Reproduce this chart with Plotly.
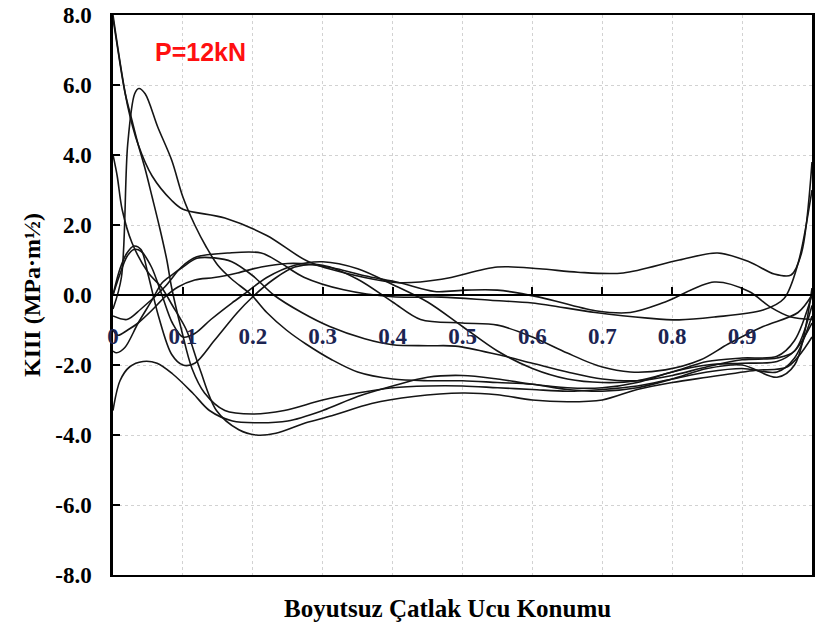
import plotly.graph_objects as go

# ---- data ----
c1_x = [0, 0.021, 0.036, 0.056, 0.084, 0.1, 0.16, 0.22, 0.28, 0.36, 0.41, 0.47, 0.55, 0.61, 0.665, 0.73, 0.81, 0.865, 0.91, 0.946, 0.97, 0.985, 1.0]
c1_y = [8.0, 5.4, 4.3, 3.4, 2.7, 2.45, 2.2, 1.7, 0.95, 0.5, 0.35, 0.45, 0.8, 0.75, 0.65, 0.63, 1.0, 1.2, 0.95, 0.6, 0.57, 1.2, 3.8]

c2_x = [0, 0.012, 0.021, 0.031, 0.037, 0.046, 0.064, 0.084, 0.1, 0.117, 0.134, 0.15, 0.17, 0.198, 0.22, 0.248, 0.276, 0.313, 0.35, 0.4, 0.45, 0.5, 0.55, 0.6, 0.65, 0.7, 0.75, 0.8, 0.85, 0.9, 0.95, 0.975, 1.0]
c2_y = [-0.4, 0.5, 4.3, 5.75, 5.9, 5.75, 4.8, 3.85, 2.8, 2.0, 1.35, 0.85, 0.45, 0.0, -0.5, -1.0, -1.4, -1.85, -2.2, -2.4, -2.45, -2.45, -2.5, -2.55, -2.7, -2.75, -2.65, -2.4, -2.1, -2.0, -2.35, -2.0, 0.2]

c3_x = [0, 0.01, 0.02, 0.03, 0.04, 0.05, 0.065, 0.084, 0.1, 0.117, 0.145, 0.178, 0.2, 0.23, 0.26, 0.3, 0.35, 0.4, 0.44, 0.5, 0.55, 0.6, 0.65, 0.7, 0.74, 0.79, 0.84, 0.88, 0.93, 0.98, 1.0]
c3_y = [0.0, 0.75, 1.2, 1.4, 1.3, 0.6, -0.6, -1.7, -2.0, -1.95, -1.3, -0.5, -0.05, 0.45, 0.8, 0.85, 0.45, -0.2, -0.7, -0.8, -0.86, -1.2, -1.66, -2.06, -2.2, -2.14, -1.86, -1.4, -0.9, -0.5, 0.0]

c4_x = [0, 0.007, 0.017, 0.027, 0.036, 0.046, 0.056, 0.067, 0.077, 0.084, 0.098, 0.113, 0.131, 0.16, 0.2, 0.245, 0.3, 0.35, 0.4, 0.45, 0.5, 0.55, 0.6, 0.65, 0.7, 0.75, 0.8, 0.85, 0.9, 0.95, 0.975, 1.0]
c4_y = [7.9, 7.0, 5.8, 5.0, 4.3, 3.6, 2.8, 1.9, 1.0, 0.2, -1.0, -2.1, -2.8, -3.3, -3.4, -3.3, -3.0, -2.8, -2.65, -2.6, -2.6, -2.65, -2.7, -2.75, -2.7, -2.6, -2.4, -2.2, -2.1, -2.2, -1.8, -0.6]

c5_x = [0, 0.006, 0.013, 0.027, 0.05, 0.07, 0.085, 0.105, 0.124, 0.148, 0.18, 0.205, 0.233, 0.276, 0.313, 0.37, 0.43, 0.5, 0.55, 0.6, 0.65, 0.7, 0.75, 0.8, 0.85, 0.92, 0.965, 1.0]
c5_y = [4.0, 3.4, 2.45, 1.5, 0.65, 0.2, -0.3, -1.0, -2.1, -3.3, -3.85, -4.0, -3.95, -3.65, -3.45, -3.1, -2.9, -2.8, -2.85, -3.0, -3.05, -3.0, -2.7, -2.5, -2.35, -2.15, -2.05, -1.2]

c6_x = [0, 0.007, 0.021, 0.036, 0.056, 0.074, 0.093, 0.117, 0.145, 0.178, 0.212, 0.25, 0.28, 0.32, 0.36, 0.41, 0.46, 0.505, 0.55, 0.61, 0.69, 0.74, 0.79, 0.86, 0.91, 0.94, 0.97, 1.0]
c6_y = [-1.0, -1.15, -1.0, -0.8, -0.43, -0.06, 0.23, 0.43, 0.5, 0.63, 0.8, 0.9, 0.88, 0.75, 0.55, 0.35, 0.1, 0.14, 0.14, -0.06, -0.45, -0.5, -0.2, 0.37, 0.1, -0.34, -0.63, -0.7]

c7_x = [0, 0.005, 0.017, 0.036, 0.056, 0.07, 0.084, 0.1, 0.12, 0.145, 0.17, 0.2, 0.23, 0.27, 0.31, 0.36, 0.4, 0.45, 0.49, 0.55, 0.6, 0.65, 0.7, 0.75, 0.8, 0.85, 0.9, 0.95, 0.975, 1.0]
c7_y = [-1.6, -1.65, -1.5, -0.8, -0.14, 0.34, 0.57, 0.8, 1.05, 1.06, 0.95, 0.55, 0.0, -0.5, -0.9, -1.25, -1.42, -1.45, -1.46, -1.7, -1.95, -2.2, -2.4, -2.45, -2.3, -2.05, -1.85, -1.8, -1.6, -0.3]

c8_x = [0, 0.02, 0.04, 0.074, 0.098, 0.12, 0.164, 0.212, 0.24, 0.273, 0.33, 0.4, 0.47, 0.54, 0.6, 0.69, 0.765, 0.81, 0.86, 0.93, 0.96, 0.98, 1.0]
c8_y = [-0.6, -0.7, -0.4, 0.23, 0.8, 1.09, 1.2, 1.2, 0.91, 0.51, 0.15, -0.05, -0.06, -0.15, -0.23, -0.5, -0.66, -0.71, -0.63, -0.43, -0.1, 0.9, 3.0]

c9_x = [0, 0.01, 0.024, 0.043, 0.063, 0.085, 0.114, 0.138, 0.171, 0.205, 0.25, 0.3, 0.35, 0.4, 0.45, 0.5, 0.55, 0.6, 0.65, 0.7, 0.75, 0.8, 0.85, 0.9, 0.95, 0.975, 1.0]
c9_y = [-3.3, -2.45, -2.05, -1.9, -1.95, -2.25, -2.8, -3.3, -3.6, -3.65, -3.6, -3.3, -2.9, -2.6, -2.35, -2.3, -2.4, -2.55, -2.65, -2.65, -2.5, -2.2, -2.0, -1.95, -1.9, -1.6, -0.8]

c10_x = [0, 0.01, 0.02, 0.03, 0.04, 0.055, 0.07, 0.085, 0.1, 0.117, 0.14, 0.17, 0.19, 0.22, 0.26, 0.3, 0.35, 0.4, 0.45, 0.5, 0.55, 0.6, 0.65, 0.7, 0.75, 0.8, 0.85, 0.9, 0.95, 0.975, 1.0]
c10_y = [0.0, 0.6, 1.1, 1.3, 1.25, 0.8, 0.0, -0.8, -1.2, -1.1, -0.7, -0.23, 0.06, 0.5, 0.85, 0.95, 0.75, 0.3, -0.2, -0.9, -1.6, -2.1, -2.4, -2.5, -2.45, -2.2, -1.9, -1.8, -1.75, -1.3, 0.0]

series_x = [c1_x, c2_x, c3_x, c4_x, c5_x, c6_x, c7_x, c8_x, c9_x, c10_x]
series_y = [c1_y, c2_y, c3_y, c4_y, c5_y, c6_y, c7_y, c8_y, c9_y, c10_y]

x_tick_vals = [0, 0.1, 0.2, 0.3, 0.4, 0.5, 0.6, 0.7, 0.8, 0.9]
x_tick_text = ["0", "0.1", "0.2", "0.3", "0.4", "0.5", "0.6", "0.7", "0.8", "0.9"]
y_tick_vals = [-8, -6, -4, -2, 0, 2, 4, 6, 8]
y_tick_text = [f"{v:.1f}" for v in y_tick_vals]

x_title = "Boyutsuz Çatlak Ucu Konumu"
y_title = "KIII (MPa·m½)"
load_label = "P=12kN"

# ---- figure ----
SERIF = "Liberation Serif"
fig = go.Figure()
for i, (xs, ys) in enumerate(zip(series_x, series_y)):
    fig.add_trace(go.Scatter(
        x=xs, y=ys, mode="lines",
        line=dict(color="#151515", width=1.6, shape="spline", smoothing=0.9),
        xaxis="x2" if i == 0 else "x",
        showlegend=False, hoverinfo="skip"))

grid = dict(showgrid=True, gridcolor="#d2d2d2", gridwidth=1, griddash="3px,3px")

fig.update_layout(
    width=816, height=628,
    margin=dict(l=113, r=1, t=15, b=53),
    paper_bgcolor="white", plot_bgcolor="white",
    xaxis=dict(range=[0, 1], dtick=0.1, tick0=0, showticklabels=False, ticks="",
               showline=True, linecolor="black", linewidth=2, mirror=True,
               zeroline=False, **grid),
    xaxis2=dict(range=[0, 1], overlaying="x", anchor="free", position=0.5, side="bottom",
                showline=True, linecolor="black", linewidth=1.6,
                ticks="inside", ticklen=7, tickwidth=1.5, tickcolor="black",
                tickvals=x_tick_vals, ticktext=x_tick_text,
                tickfont=dict(family=SERIF, size=23, color="#1c2452", weight="bold"),
                ticklabelstandoff=21, showgrid=False, zeroline=False),
    yaxis=dict(range=[-8, 8], tickvals=y_tick_vals, ticktext=y_tick_text,
               ticks="inside", ticklen=7, tickwidth=2, tickcolor="black",
               showline=True, linecolor="black", linewidth=2.5, mirror=True,
               tickfont=dict(family=SERIF, size=23, color="black", weight="bold"),
               ticklabelstandoff=14, zeroline=False, **grid),
    annotations=[
        dict(text=x_title, xref="paper", yref="paper", x=0.478, y=0,
             xanchor="center", yanchor="middle",
             yshift=-33, showarrow=False,
             font=dict(family=SERIF, size=25, color="black", weight="bold")),
        dict(text=y_title, xref="paper", yref="paper", x=0, y=0.5,
             xanchor="center", yanchor="middle",
             xshift=-81, textangle=-90, showarrow=False,
             font=dict(family=SERIF, size=24, color="black", weight="bold")),
        dict(text=load_label, xref="paper", yref="paper", x=0.125, y=0.9335,
             xanchor="center", yanchor="middle", showarrow=False,
             font=dict(family="Liberation Sans", size=25, color="#ff1010", weight="bold")),
    ],
)

fig.write_html("out.html", config={"displayModeBar": False},
               post_script="document.body.style.margin='0';document.body.style.overflow='hidden';")
